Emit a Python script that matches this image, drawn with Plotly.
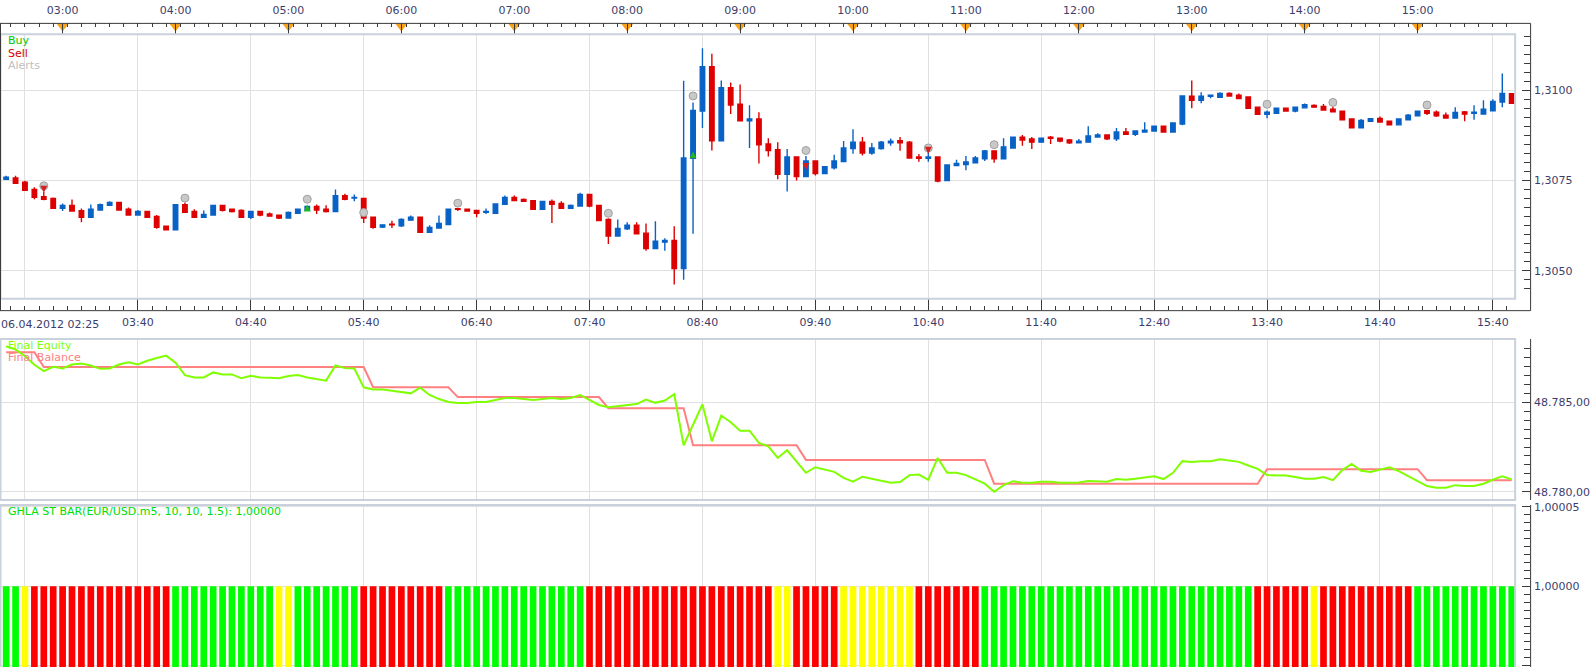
import plotly.graph_objects as go
import pandas as pd

# ---------------- data ----------------
times = pd.date_range("2012-04-06 02:30", periods=161, freq="5min")

opens = [
1.30753,1.30757,1.30745,1.30725,1.30705,1.30700,1.30673,1.30681,1.30666,1.30648,
1.30668,1.30681,1.30689,1.30670,1.30654,1.30664,1.30650,1.30623,1.30613,1.30683,
1.30664,1.30648,1.30654,1.30681,1.30670,1.30667,1.30648,1.30664,1.30657,1.30654,
1.30646,1.30659,1.30668,1.30678,1.30670,1.30664,1.30708,1.30701,1.30700,1.30648,
1.30621,1.30629,1.30624,1.30640,1.30648,1.30606,1.30618,1.30628,1.30672,1.30670,
1.30667,1.30662,1.30659,1.30684,1.30703,1.30697,1.30694,1.30670,1.30692,1.30686,
1.30673,1.30679,1.30711,1.30681,1.30642,1.30596,1.30616,1.30626,1.30604,1.30561,
1.30579,1.30584,1.30506,1.30811,1.30942,1.31065,1.30860,1.31007,1.30961,1.30915,
1.30920,1.30851,1.30835,1.30767,1.30815,1.30761,1.30804,1.30769,1.30785,1.30802,
1.30838,1.30856,1.30826,1.30838,1.30854,1.30860,1.30856,1.30815,1.30811,1.30815,
1.30750,1.30791,1.30794,1.30799,1.30810,1.30832,1.30810,1.30840,1.30870,1.30865,
1.30856,1.30870,1.30867,1.30862,1.30854,1.30856,1.30870,1.30876,1.30865,1.30884,
1.30878,1.30884,1.30887,1.30900,1.30884,1.30906,1.30983,1.30972,1.30983,1.30980,
1.30991,1.30986,1.30981,1.30953,1.30933,1.30936,1.30950,1.30942,1.30951,1.30958,
1.30955,1.30947,1.30942,1.30920,1.30896,1.30914,1.30922,1.30914,1.30904,1.30918,
1.30929,1.30943,1.30939,1.30931,1.30923,1.30940,1.30936,1.30934,1.30943,1.30967,
1.30990]

highs = [
1.30763,1.30763,1.30749,1.30731,1.30718,1.30703,1.30686,1.30697,1.30672,1.30683,
1.30686,1.30692,1.30689,1.30675,1.30668,1.30664,1.30654,1.30623,1.30683,1.30689,
1.30670,1.30667,1.30681,1.30681,1.30672,1.30670,1.30664,1.30664,1.30661,1.30654,
1.30664,1.30672,1.30678,1.30683,1.30681,1.30725,1.30713,1.30711,1.30700,1.30648,
1.30628,1.30638,1.30645,1.30653,1.30648,1.30626,1.30653,1.30670,1.30672,1.30672,
1.30667,1.30672,1.30686,1.30708,1.30708,1.30700,1.30694,1.30692,1.30697,1.30692,
1.30683,1.30716,1.30711,1.30681,1.30645,1.30642,1.30634,1.30634,1.30631,1.30637,
1.30590,1.30623,1.31026,1.30966,1.31116,1.31101,1.31027,1.31021,1.31016,1.30958,
1.30939,1.30867,1.30856,1.30837,1.30815,1.30818,1.30804,1.30788,1.30821,1.30859,
1.30892,1.30870,1.30854,1.30859,1.30866,1.30870,1.30859,1.30823,1.30833,1.30815,
1.30793,1.30807,1.30818,1.30818,1.30834,1.30832,1.30867,1.30872,1.30876,1.30870,
1.30867,1.30873,1.30867,1.30865,1.30865,1.30900,1.30881,1.30876,1.30895,1.30895,
1.30887,1.30911,1.30900,1.30900,1.30909,1.30986,1.31027,1.30994,1.30986,1.30994,
1.30994,1.30991,1.30981,1.30953,1.30944,1.30950,1.30950,1.30955,1.30963,1.30961,
1.30962,1.30954,1.30942,1.30922,1.30920,1.30921,1.30927,1.30916,1.30920,1.30934,
1.30942,1.30943,1.30944,1.30938,1.30953,1.30942,1.30958,1.30972,1.30975,1.31046,
1.30990]

lows = [
1.30753,1.30742,1.30723,1.30698,1.30695,1.30673,1.30665,1.30665,1.30634,1.30648,
1.30668,1.30681,1.30668,1.30654,1.30652,1.30646,1.30616,1.30613,1.30613,1.30662,
1.30648,1.30648,1.30654,1.30664,1.30661,1.30648,1.30643,1.30651,1.30651,1.30643,
1.30646,1.30659,1.30665,1.30657,1.30661,1.30664,1.30695,1.30692,1.30632,1.30616,
1.30618,1.30618,1.30621,1.30640,1.30605,1.30605,1.30618,1.30626,1.30665,1.30665,
1.30648,1.30657,1.30659,1.30684,1.30692,1.30692,1.30670,1.30670,1.30632,1.30673,
1.30673,1.30679,1.30676,1.30638,1.30574,1.30596,1.30613,1.30602,1.30555,1.30561,
1.30555,1.30462,1.30475,1.30602,1.30895,1.30833,1.30860,1.30934,1.30915,1.30840,
1.30797,1.30816,1.30753,1.30719,1.30750,1.30761,1.30764,1.30769,1.30780,1.30802,
1.30824,1.30819,1.30821,1.30835,1.30846,1.30832,1.30810,1.30802,1.30802,1.30745,
1.30750,1.30791,1.30778,1.30799,1.30804,1.30799,1.30810,1.30840,1.30846,1.30837,
1.30856,1.30851,1.30856,1.30851,1.30854,1.30856,1.30870,1.30862,1.30859,1.30878,
1.30873,1.30884,1.30887,1.30884,1.30884,1.30903,1.30950,1.30964,1.30978,1.30980,
1.30984,1.30977,1.30950,1.30933,1.30922,1.30936,1.30942,1.30939,1.30951,1.30953,
1.30945,1.30940,1.30918,1.30896,1.30896,1.30914,1.30912,1.30904,1.30904,1.30918,
1.30929,1.30931,1.30926,1.30923,1.30923,1.30914,1.30918,1.30934,1.30943,1.30953,
1.30964]

closes = [
1.30759,1.30742,1.30723,1.30703,1.30698,1.30673,1.30681,1.30665,1.30648,1.30670,
1.30683,1.30689,1.30668,1.30654,1.30664,1.30648,1.30620,1.30613,1.30683,1.30662,
1.30648,1.30656,1.30681,1.30667,1.30664,1.30648,1.30664,1.30654,1.30651,1.30646,
1.30661,1.30670,1.30678,1.30668,1.30664,1.30708,1.30698,1.30703,1.30646,1.30620,
1.30627,1.30627,1.30642,1.30648,1.30606,1.30620,1.30631,1.30670,1.30670,1.30665,
1.30659,1.30664,1.30685,1.30703,1.30694,1.30692,1.30670,1.30692,1.30684,1.30673,
1.30681,1.30711,1.30679,1.30639,1.30596,1.30617,1.30626,1.30602,1.30561,1.30582,
1.30584,1.30506,1.30812,1.30944,1.31065,1.30860,1.31007,1.30959,1.30915,1.30920,
1.30849,1.30833,1.30767,1.30815,1.30761,1.30804,1.30769,1.30788,1.30804,1.30840,
1.30856,1.30826,1.30840,1.30856,1.30859,1.30854,1.30812,1.30811,1.30815,1.30748,
1.30793,1.30797,1.30801,1.30812,1.30832,1.30810,1.30843,1.30870,1.30862,1.30856,
1.30867,1.30867,1.30859,1.30854,1.30859,1.30873,1.30876,1.30865,1.30884,1.30878,
1.30887,1.30889,1.30900,1.30884,1.30909,1.30984,1.30972,1.30983,1.30986,1.30991,
1.30984,1.30977,1.30950,1.30933,1.30939,1.30950,1.30942,1.30953,1.30960,1.30953,
1.30945,1.30940,1.30918,1.30896,1.30916,1.30921,1.30912,1.30904,1.30920,1.30931,
1.30942,1.30936,1.30929,1.30923,1.30938,1.30934,1.30939,1.30947,1.30969,1.30991,
1.30964]

alert_idx = [4, 19, 32, 38, 48, 64, 73, 85, 98, 105, 134, 141, 151]
alert_price = [1.30735, 1.30701, 1.30698, 1.30661, 1.30687, 1.30659, 1.30984,
               1.30833, 1.30840, 1.30849, 1.30961, 1.30966, 1.30959]
buy_idx = [32, 73]
buy_price = [1.30683, 1.30831]
sell_idx = [4, 85, 98]
sell_price = [1.30716, 1.30779, 1.30824]

equity = [
48788.13,48787.95,48787.58,48787.10,48786.74,48786.98,48786.89,48787.11,48787.17,48787.06,
48786.87,48786.89,48787.11,48787.24,48787.11,48787.32,48787.48,48787.61,48787.21,48786.52,
48786.39,48786.39,48786.67,48786.56,48786.56,48786.34,48786.48,48786.39,48786.37,48786.34,
48786.47,48786.52,48786.39,48786.28,48786.21,48787.06,48786.91,48786.89,48785.84,48785.72,
48785.72,48785.65,48785.59,48785.50,48785.82,48785.41,48785.18,48785.02,48784.96,48784.96,
48785.02,48785.02,48785.13,48785.24,48785.24,48785.18,48785.13,48785.18,48785.24,48785.18,
48785.24,48785.41,48785.13,48784.85,48784.73,48784.79,48784.85,48784.90,48785.15,48784.97,
48785.10,48785.45,48782.60,48783.74,48784.89,48782.82,48784.26,48783.89,48783.41,48783.41,
48782.73,48782.54,48781.89,48782.32,48781.71,48781.06,48781.37,48781.24,48781.11,48780.78,
48780.56,48780.84,48780.73,48780.59,48780.50,48780.54,48780.93,48780.96,48780.67,48781.89,
48781.06,48781.06,48780.93,48780.69,48780.45,48780.00,48780.37,48780.59,48780.50,48780.50,
48780.56,48780.56,48780.50,48780.50,48780.52,48780.60,48780.60,48780.56,48780.71,48780.67,
48780.73,48780.78,48780.87,48780.71,48781.06,48781.71,48781.67,48781.71,48781.71,48781.82,
48781.76,48781.67,48781.47,48781.28,48780.93,48780.91,48780.91,48780.82,48780.73,48780.73,
48780.82,48780.65,48781.21,48781.56,48781.17,48781.11,48781.24,48781.37,48781.15,48780.87,
48780.63,48780.32,48780.22,48780.22,48780.37,48780.32,48780.32,48780.45,48780.67,48780.87,
48780.69]

balance = ([48787.80] * 4 + [48786.97] * 35 + [48785.84] * 9 + [48785.29] * 16 +
           [48784.67] * 9 + [48782.60] * 12 + [48781.78] * 20 + [48780.45] * 29 +
           [48781.26] * 17 + [48780.65] * 10)

# indicator state per bar, run-length encoded (G=green, R=red, Y=yellow)
ind_runs = [("G", 2), ("Y", 1), ("R", 15), ("G", 11), ("Y", 2), ("G", 7), ("R", 9),
            ("G", 15), ("R", 20), ("Y", 2), ("R", 5), ("Y", 8), ("R", 7), ("G", 29),
            ("R", 6), ("Y", 1), ("R", 10), ("G", 11)]
ind_states = [s for s, n in ind_runs for _ in range(n)]
ind_value = [1.0] * len(ind_states)
state_colors = {"G": "#00ff00", "R": "#ff0000", "Y": "#ffff00"}

grid_times = pd.date_range("2012-04-06 02:40", "2012-04-06 15:40", freq="1h")
grid_text = [""] + [t.strftime("%H:%M") for t in grid_times[1:]]
hour_times = pd.date_range("2012-04-06 03:00", "2012-04-06 15:00", freq="1h")
hour_text = [t.strftime("%H:%M") for t in hour_times]
minor_times = pd.date_range("2012-04-06 02:25", "2012-04-06 15:55", freq="450s")

# ---------------- layout helpers ----------------
W, H = 1590, 667
def px(x): return x / W
def py(y): return 1 - y / H

X_RANGE = ["2012-04-06 02:26:44", "2012-04-06 15:51:50"]
XDOM = [0, px(1518)]
AXIS_X = px(1533)
FONT = "DejaVu Sans"
label_font = dict(family=FONT, size=11, color="#3d3d6b")
GRID = "#e0e0e0"
DARK = "#3a3a3a"

fig = go.Figure()

fig.add_trace(go.Candlestick(
    x=times, open=opens, high=highs, low=lows, close=closes,
    increasing=dict(line=dict(color="#0862c6", width=1.4), fillcolor="#0862c6"),
    decreasing=dict(line=dict(color="#dd0000", width=1.4), fillcolor="#dd0000"),
    whiskerwidth=0, xaxis="x", yaxis="y", hoverinfo="skip", name="EUR/USD"))

fig.add_trace(go.Scatter(
    x=[times[i] for i in alert_idx], y=alert_price, mode="markers", name="Alerts",
    marker=dict(symbol="circle", size=8, color="#c8c8c8", line=dict(color="#a0a0a0", width=1)),
    xaxis="x", yaxis="y"))
fig.add_trace(go.Scatter(
    x=[times[i] for i in buy_idx], y=buy_price, mode="markers", name="Buy",
    marker=dict(symbol="arrow-up", size=7, color="#22b422"), xaxis="x", yaxis="y"))
fig.add_trace(go.Scatter(
    x=[times[i] for i in sell_idx], y=sell_price, mode="markers", name="Sell",
    marker=dict(symbol="arrow-down", size=7, color="#d42020"), xaxis="x", yaxis="y"))

fig.add_trace(go.Scatter(x=times, y=balance, mode="lines", name="Final Balance",
                         line=dict(color="#ff8080", width=2), xaxis="x2", yaxis="y2"))
fig.add_trace(go.Scatter(x=times, y=equity, mode="lines", name="Final Equity",
                         line=dict(color="#80ff00", width=2), xaxis="x2", yaxis="y2"))

fig.add_trace(go.Bar(x=times, y=ind_value, name="GHLA ST BAR",
                     marker=dict(color=[state_colors[s] for s in ind_states], line=dict(width=0)),
                     xaxis="x3", yaxis="y3"))

fig.add_trace(go.Scatter(x=hour_times, y=[0.7] * len(hour_times), mode="markers",
                         marker=dict(symbol="triangle-down", size=10, color="#f7a21b"),
                         xaxis="x4", yaxis="y4", hoverinfo="skip"))

common_x = dict(type="date", range=X_RANGE, domain=XDOM, showline=False, zeroline=False,
                fixedrange=True)
minor_x = dict(tickmode="array", tickvals=minor_times, ticks="inside",
               ticklen=4, tickcolor=DARK, tickwidth=1, showgrid=False)

def yax(domain, rng, tickvals, fmt, minor_dtick, minor_tick0):
    return dict(domain=domain, range=rng, anchor="free", position=AXIS_X, side="right",
                tickmode="array", tickvals=tickvals, tickformat=fmt, ticks="inside",
                ticklen=8, tickcolor=DARK, showgrid=True, gridcolor=GRID, gridwidth=1,
                zeroline=False, showline=False, tickfont=label_font, fixedrange=True,
                ticklabelstandoff=3,
                minor=dict(tickmode="linear", tick0=minor_tick0, dtick=minor_dtick,
                           ticks="inside", ticklen=6, tickcolor=DARK, showgrid=False))

fig.update_layout(
    width=W, height=H, margin=dict(l=0, r=0, t=0, b=0, pad=0),
    paper_bgcolor="white", plot_bgcolor="white", showlegend=False,
    separators=",.", font=dict(family=FONT, size=11, color="#3d3d6b"),
    boxgap=0.32, bargap=0.29,
    xaxis=dict(**common_x, anchor="free", position=py(308), tickmode="array",
               tickvals=grid_times, ticktext=grid_text, ticks="inside", ticklen=11,
               tickcolor=DARK, showgrid=True, gridcolor=GRID, gridwidth=1,
               tickfont=label_font, minor=minor_x, rangeslider=dict(visible=False),
               ticklabelstandoff=4),
    yaxis=yax([py(296), py(31)], [1.304237, 1.311534], [1.3050, 1.3075, 1.3100], ".4f",
              0.00025, 1.3),
    xaxis2=dict(**common_x, anchor="y2", tickmode="array", tickvals=grid_times,
                showticklabels=False, ticks="", showgrid=True, gridcolor=GRID),
    yaxis2=yax([py(499), py(337)], [48779.539, 48788.539], [48780, 48785], ",.2f",
               0.5, 48780),
    xaxis3=dict(**common_x, anchor="y3", tickmode="array", tickvals=grid_times,
                showticklabels=False, ticks="", showgrid=True, gridcolor=GRID),
    yaxis3=yax([0, py(504)], [0.9999492, 1.0000512], [0.99995, 1.0, 1.00005], ".5f",
               0.000005, 1.0),
    xaxis4=dict(**common_x, anchor="y4", side="top", tickmode="array", tickvals=hour_times,
                ticktext=hour_text, ticks="inside", ticklen=12, tickcolor=DARK,
                showgrid=False, tickfont=label_font, ticklabelstandoff=6,
                minor=dict(tickmode="array", tickvals=minor_times, ticks="inside",
                           ticklen=4, tickcolor=DARK, tickwidth=1, showgrid=False)),
    yaxis4=dict(domain=[py(31), py(19)], range=[0, 1], visible=False, fixedrange=True),
)

def hline(x0, x1, y, color=DARK, w=1):
    return dict(type="line", xref="paper", yref="paper", x0=px(x0), x1=px(x1),
                y0=py(y), y1=py(y), line=dict(color=color, width=w), layer="above")

def vline(x, y0, y1, color=DARK, w=1):
    return dict(type="line", xref="paper", yref="paper", x0=px(x), x1=px(x),
                y0=py(y0), y1=py(y1), line=dict(color=color, width=w), layer="above")

def frame(x0, y0, x1, y1):
    return dict(type="rect", xref="paper", yref="paper", x0=px(x0), x1=px(x1),
                y0=py(y1), y1=py(y0), line=dict(color="#c9d1dc", width=2), layer="above")

shapes = [
    frame(0.5, 30.5, 1518, 296.5),
    frame(0.5, 337, 1518, 499),
    frame(0.5, 504, 1518, 672),
    hline(0, 1533.5, 19.5), hline(0, 1533.5, 308.5),
    vline(0.5, 19.5, 308.5), vline(1533.5, 19.5, 308.5),
    vline(1533.5, 337, 499), vline(1533.5, 504, 667),
]

def note(text, x, y, color, anchor="left"):
    return dict(text=text, xref="paper", yref="paper", x=px(x), y=py(y), xanchor=anchor,
                yanchor="middle", showarrow=False, font=dict(family=FONT, size=11, color=color),
                borderpad=0)

annotations = [
    note("Buy", 7, 37, "#00c800"),
    note("Sell", 7, 49.5, "#d40000"),
    note("Alerts", 7, 62, "#c0c0c0"),
    note("Final Equity", 7, 343.5, "#80ff00"),
    note("Final Balance", 7, 356, "#ff8080"),
    note("GHLA ST BAR(EUR/USD.m5, 10, 10, 1.5): 1,00000", 7, 511, "#00e000"),
    note("06.04.2012 02:25", 0, 322, "#3d3d6b"),
]

fig.update_layout(shapes=shapes, annotations=annotations)
fig.write_html("out.html")
